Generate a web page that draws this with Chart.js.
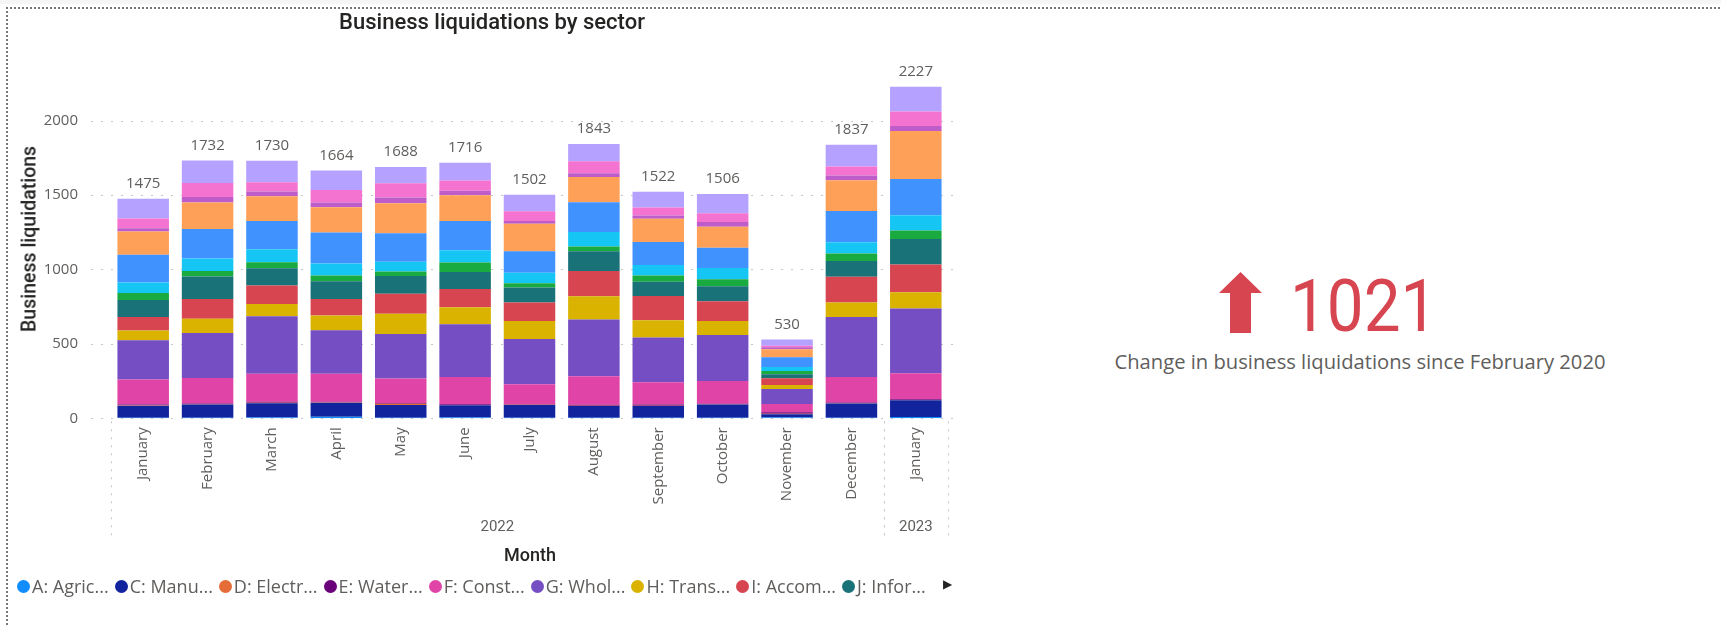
<!DOCTYPE html>
<html>
<head>
<meta charset="utf-8">
<title>Business liquidations by sector</title>
<script src="https://cdn.jsdelivr.net/npm/chart.js@4.4.1/dist/chart.umd.min.js"></script>
<style>
    body {
        margin: 0;
        width: 1721px;
        height: 626px;
        overflow: hidden;
        position: relative;
        background: #fff;
        font-family: "Open Sans", sans-serif;
    }
    #topband { position: absolute; left: 0; top: 0; width: 1721px; height: 4px; background: #f6f6f6; }
    #frame {
        position: absolute; left: 6px; top: 7px; width: 1740px; height: 640px;
        border-top: 2px dotted #777; border-left: 2px dotted #777;
    }
    #chartBox { position: absolute; left: 0; top: 0; width: 960px; height: 626px; }
    #title {
        position: absolute; left: 492px; top: 9px; transform: translateX(-50%);
        font-family: Roboto, sans-serif; font-size: 22px; font-weight: 500; color: #252423; white-space: nowrap;
    }
    #yTitle {
        position: absolute; left: 29px; top: 239px; transform: translate(-50%, -50%) rotate(-90deg);
        font-family: Roboto, sans-serif; font-size: 19.5px; font-weight: 500; color: #252423; white-space: nowrap;
    }
    #xTitle {
        position: absolute; left: 530px; top: 554px; transform: translate(-50%, -50%);
        font-family: Roboto, sans-serif; font-size: 18px; font-weight: 500; color: #252423; white-space: nowrap;
    }
    #legend {
        position: absolute; left: 17px; top: 573px; height: 26px;
        display: flex; align-items: center;
    }
    .item { display: flex; align-items: center; margin-right: 6px; }
    .dot { width: 13px; height: 13px; border-radius: 50%; margin-right: 2px; flex: none; }
    .name { white-space: nowrap; font-size: 18px; color: #605E5C; }
    #more { position: absolute; left: 943px; top: 574px; font-family: "DejaVu Sans"; font-size: 12px; color: #252423; line-height: 20px; }
    #arrow { position: absolute; left: 1219px; top: 272px; }
    #kpi {
        position: absolute; left: 1290px; top: 271px; line-height: 72px;
        font-family: Roboto, sans-serif; font-size: 72px; color: #D64550; white-space: nowrap;
        transform: scaleX(0.91); transform-origin: left center;
    }
    #kpiText {
        position: absolute; left: 1360px; top: 347px; transform: translateX(-50%);
        font-size: 20.2px; line-height: 28px; color: #605E5C; white-space: nowrap;
    }
</style>
</head>
<body>
<div id="topband"></div>
<div id="frame"></div>
<div id="chartBox"><canvas id="chart"></canvas></div>
<div id="title">Business liquidations by sector</div>
<div id="yTitle">Business liquidations</div>
<div id="xTitle">Month</div>
<div id="legend"></div>
<div id="more">&#9654;</div>
<svg id="arrow" width="43" height="61" viewBox="0 0 43 61">
    <polygon points="21.5,0 43,21 32,21 32,61 11,61 11,21 0,21" fill="#D64550"/>
</svg>
<div id="kpi"></div>
<div id="kpiText">Change in business liquidations since February 2020</div>

<script>
var months = ['January', 'February', 'March', 'April', 'May', 'June', 'July',
    'August', 'September', 'October', 'November', 'December', 'January'];
var monthYears = ['2022', '2022', '2022', '2022', '2022', '2022', '2022',
    '2022', '2022', '2022', '2022', '2022', '2023'];
var yTicks = [0, 500, 1000, 1500, 2000];

// liquidations per sector, one value per month
var agriculture    = [4, 4, 5, 10, 3, 6, 4, 3, 3, 4, 5, 4, 8];
var manufacturing  = [81, 88, 96, 95, 87, 81, 86, 80, 80, 88, 22, 95, 113];
var electricity    = [2, 2, 3, 2, 8, 2, 1, 2, 2, 2, 3, 2, 2];
var water          = [5, 5, 8, 5, 5, 6, 3, 6, 8, 3, 10, 5, 5];
var construction   = [168, 172, 188, 188, 164, 183, 134, 191, 149, 154, 56, 172, 174];
var wholesale      = [264, 302, 385, 291, 300, 354, 305, 381, 300, 309, 101, 403, 435];
var transport      = [65, 95, 83, 99, 136, 114, 121, 157, 117, 94, 27, 96, 110];
var accommodation  = [92, 134, 124, 112, 133, 123, 123, 170, 163, 132, 45, 173, 186];
var information    = [114, 150, 116, 119, 120, 114, 101, 132, 96, 101, 27, 107, 172];
var financial      = [47, 38, 40, 38, 30, 63, 29, 32, 41, 47, 22, 50, 56];
var realEstate     = [70, 83, 88, 80, 65, 83, 70, 98, 71, 76, 27, 76, 103];
var professional   = [186, 199, 190, 209, 192, 197, 145, 200, 155, 135, 65, 210, 244];
var administrative = [156, 177, 166, 170, 202, 173, 184, 168, 155, 141, 54, 206, 321];
var education      = [23, 38, 31, 31, 38, 29, 20, 26, 22, 33, 13, 32, 35];
var arts           = [65, 94, 63, 85, 96, 69, 65, 81, 54, 59, 11, 60, 97];
var otherServices  = [133, 151, 144, 130, 109, 119, 111, 116, 106, 128, 42, 146, 166];

var sectorNames = [
    'A: Agriculture, forestry and fishing',
    'C: Manufacturing',
    'D: Electricity, gas, steam and air conditioning supply',
    'E: Water supply, sewerage, waste management',
    'F: Construction',
    'G: Wholesale and retail trade',
    'H: Transportation and storage',
    'I: Accommodation and food service activities',
    'J: Information and communication',
    'K: Financial and insurance activities',
    'L: Real estate activities',
    'M: Professional, scientific and technical activities',
    'N: Administrative and support service activities',
    'P: Education',
    'R: Arts, entertainment and recreation',
    'S: Other service activities'
];
var sectorValues = [agriculture, manufacturing, electricity, water, construction, wholesale,
    transport, accommodation, information, financial, realEstate, professional,
    administrative, education, arts, otherServices];
var sectorColors = ['#118DFF', '#12239E', '#E66C37', '#6B007B', '#E044A7', '#744EC2',
    '#D9B300', '#D64550', '#197278', '#1AAB40', '#15C6F4', '#4092FF',
    '#FFA058', '#BE5DC9', '#F472D0', '#B5A1FF'];
var legendCount = 9;

var changeSinceFeb2020 = 1021;

var datasets = [];
for (var i = 0; i < sectorNames.length; i++) {
    datasets.push({
        label: sectorNames[i],
        data: sectorValues[i],
        backgroundColor: sectorColors[i],
        borderWidth: 0
    });
}

var gridColor = '#C8C6C4';

var gridPlugin = {
    id: 'dottedGrid',
    beforeDatasetsDraw: function (chart) {
        var ctx = chart.ctx;
        var area = chart.chartArea;
        var y = chart.scales.y;
        ctx.save();
        ctx.strokeStyle = gridColor;
        ctx.lineWidth = 1;
        ctx.setLineDash([2, 8]);
        yTicks.forEach(function (v) {
            var py = Math.round(y.getPixelForValue(v)) + 0.5;
            ctx.beginPath();
            ctx.moveTo(area.left - 20, py);
            ctx.lineTo(area.right + 5, py);
            ctx.stroke();
        });
        ctx.restore();
    }
};

var totalsPlugin = {
    id: 'totals',
    afterDatasetsDraw: function (chart) {
        var ctx = chart.ctx;
        var x = chart.scales.x;
        var y = chart.scales.y;
        ctx.save();
        ctx.font = '15px "Open Sans"';
        ctx.fillStyle = '#605E5C';
        ctx.textAlign = 'center';
        ctx.textBaseline = 'middle';
        for (var i = 0; i < months.length; i++) {
            var total = 0;
            chart.data.datasets.forEach(function (ds) {
                total += ds.data[i];
            });
            ctx.fillText(total, x.getPixelForValue(i), y.getPixelForValue(total) - 15);
        }
        ctx.restore();
    }
};

var yearPlugin = {
    id: 'years',
    afterDraw: function (chart) {
        var ctx = chart.ctx;
        var area = chart.chartArea;
        var x = chart.scales.x;
        var half = (x.getPixelForValue(1) - x.getPixelForValue(0)) / 2;
        var groups = [];
        for (var i = 0; i < monthYears.length; i++) {
            if (groups.length && groups[groups.length - 1].year === monthYears[i]) {
                groups[groups.length - 1].last = i;
            } else {
                groups.push({year: monthYears[i], first: i, last: i});
            }
        }
        ctx.save();
        ctx.strokeStyle = gridColor;
        ctx.setLineDash([2, 6]);
        ctx.font = '15px Roboto';
        ctx.fillStyle = '#605E5C';
        ctx.textAlign = 'center';
        ctx.textBaseline = 'middle';
        groups.forEach(function (g) {
            var left = x.getPixelForValue(g.first) - half;
            var right = x.getPixelForValue(g.last) + half;
            [left, right].forEach(function (px) {
                px = Math.round(px) + 0.5;
                ctx.beginPath();
                ctx.moveTo(px, area.bottom + 3);
                ctx.lineTo(px, 540);
                ctx.stroke();
            });
            ctx.fillText(g.year, (left + right) / 2, 527);
        });
        ctx.restore();
    }
};

var chart = new Chart(document.getElementById('chart'), {
    type: 'bar',
    data: {
        labels: months,
        datasets: datasets
    },
    options: {
        responsive: true,
        maintainAspectRatio: false,
        animation: false,
        layout: {padding: {left: 0, top: 61, right: 12, bottom: 0}},
        datasets: {bar: {categoryPercentage: 1, barPercentage: 0.8}},
        plugins: {
            legend: {display: false},
            tooltip: {enabled: false}
        },
        scales: {
            x: {
                stacked: true,
                grid: {display: false, drawTicks: false},
                border: {display: false},
                ticks: {
                    autoSkip: false,
                    minRotation: 90,
                    maxRotation: 90,
                    padding: 9,
                    color: '#605E5C',
                    font: {family: 'Open Sans', size: 15}
                },
                afterFit: function (scale) {
                    scale.height = 207.7;
                }
            },
            y: {
                stacked: true,
                min: 0,
                max: 2400,
                grid: {display: false, drawTicks: false},
                border: {display: false},
                ticks: {
                    autoSkip: false,
                    padding: 33,
                    color: '#605E5C',
                    font: {family: 'Open Sans', size: 15},
                    callback: function (v) {
                        return String(v);
                    }
                },
                afterBuildTicks: function (scale) {
                    scale.ticks = yTicks.map(function (v) {
                        return {value: v};
                    });
                },
                afterFit: function (scale) {
                    scale.width = 111;
                }
            }
        }
    },
    plugins: [gridPlugin, totalsPlugin, yearPlugin]
});

// shorten a legend name the way the report does: cut and add "..."
function shorten(text, maxWidth) {
    var ctx = document.createElement('canvas').getContext('2d');
    ctx.font = '18px "Open Sans"';
    if (ctx.measureText(text).width <= maxWidth) {
        return text;
    }
    var cut = text;
    while (cut.length > 1 && ctx.measureText(cut + '...').width > maxWidth) {
        cut = cut.slice(0, -1);
    }
    return cut + '...';
}

function buildLegend() {
    var box = document.getElementById('legend');
    for (var j = 0; j < legendCount; j++) {
        var item = document.createElement('div');
        item.className = 'item';
        var dot = document.createElement('span');
        dot.className = 'dot';
        dot.style.background = sectorColors[j];
        var label = document.createElement('span');
        label.className = 'name';
        label.textContent = shorten(sectorNames[j], 85);
        item.appendChild(dot);
        item.appendChild(label);
        box.appendChild(item);
    }
}

buildLegend();
document.getElementById('kpi').textContent = changeSinceFeb2020;
</script>
</body>
</html>
